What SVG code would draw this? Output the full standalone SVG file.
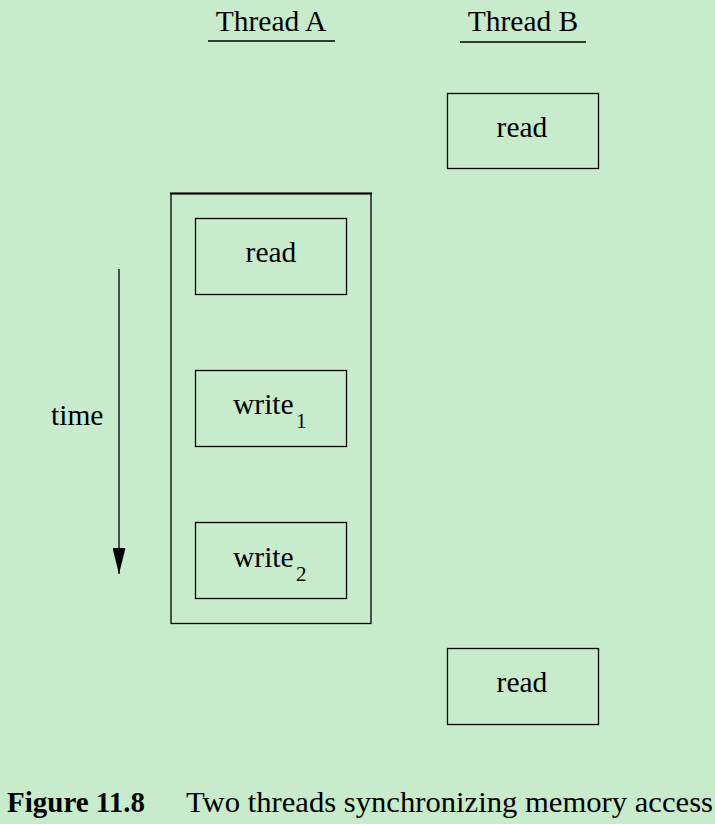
<svg xmlns="http://www.w3.org/2000/svg" width="715" height="824" viewBox="0 0 715 824">
<defs>
<style>
.t{font-family:"Liberation Serif","Times New Roman",serif;font-size:29.5px;fill:#000}
.s{font-family:"Liberation Serif","Times New Roman",serif;font-size:21px;fill:#000}
.b{fill:none;stroke:#000;stroke-width:1.3}
.ln{stroke:#000;stroke-width:1.3}
</style>
<marker id="ah" markerWidth="26" markerHeight="13" refX="26" refY="6.5" orient="auto" markerUnits="userSpaceOnUse" viewBox="0 0 26 13">
<path d="M0,0 L26,6.5 L0,13 Z" fill="#000"/>
</marker>
</defs>
<rect width="715" height="824" fill="#c7ebcb"/>
<g id="headerA">
<text class="t" x="271" y="31" text-anchor="middle">Thread A</text>
<line class="ln" x1="208" y1="41" x2="335" y2="41"/>
</g>
<g id="headerB">
<text class="t" x="523" y="31" text-anchor="middle">Thread B</text>
<line class="ln" x1="460" y1="42" x2="586" y2="42"/>
</g>
<g id="readB1">
<rect class="b" x="447.5" y="93.5" width="151" height="75"/>
<text class="t" x="522" y="137" text-anchor="middle">read</text>
</g>
<g id="critical">
<rect class="b" x="171" y="193.5" width="200" height="430"/>
<line x1="170" y1="193.5" x2="372" y2="193.5" stroke="#000" stroke-width="2"/>
</g>
<g id="readA">
<rect class="b" x="195.5" y="218.5" width="151" height="76"/>
<text class="t" x="271" y="262" text-anchor="middle">read</text>
</g>
<g id="write1">
<rect class="b" x="195.5" y="370.5" width="151" height="76"/>
<text class="t" x="233" y="414">write</text>
<text class="s" x="296" y="428">1</text>
</g>
<g id="write2">
<rect class="b" x="195.5" y="522.5" width="151" height="76"/>
<text class="t" x="233" y="567">write</text>
<text class="s" x="296" y="581">2</text>
</g>
<g id="readB2">
<rect class="b" x="447.5" y="648.5" width="151" height="76"/>
<text class="t" x="522" y="692" text-anchor="middle">read</text>
</g>
<g id="timeLabel">
<text class="t" x="51" y="425">time</text>
</g>
<g id="connectors">
<line class="ln" x1="119" y1="269" x2="119" y2="574" marker-end="url(#ah)"/>
</g>
<g id="caption">
<text class="t" x="7" y="812" font-weight="bold" textLength="138" lengthAdjust="spacingAndGlyphs">Figure 11.8</text>
<text class="t" x="186" y="812" textLength="527" lengthAdjust="spacingAndGlyphs">Two threads synchronizing memory access</text>
</g>
</svg>
